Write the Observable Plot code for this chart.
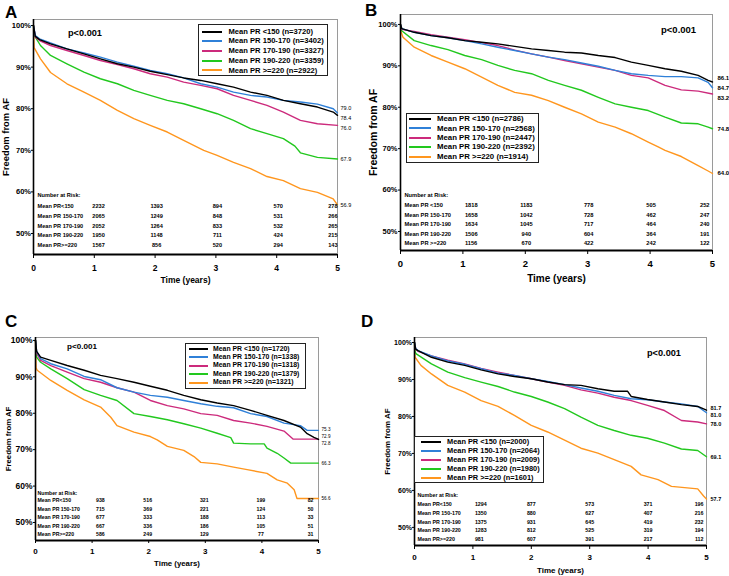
<!DOCTYPE html>
<html><head><meta charset="utf-8">
<script src="https://cdn.jsdelivr.net/npm/d3@7"></script>
<script src="https://cdn.jsdelivr.net/npm/@observablehq/plot@0.6"></script>
<style>
body{margin:0;background:#fff;}
#root{position:relative;width:729px;height:576px;overflow:hidden;font-family:"Liberation Sans",Arial,sans-serif;color:#000;}
.abs{position:absolute;white-space:nowrap;line-height:1;}
.lgbox{position:absolute;border:1.5px solid #222;background:#fff;box-sizing:border-box;}
.lgline{position:absolute;height:2px;}
</style></head><body><div id="root"></div>
<script>
// ---------- shared categories / ticks ----------
const groups = ["<150", "150-170", "170-190", "190-220", ">=220"];
const colors = ["#000000", "#2f80d8", "#cc2a7c", "#22c81e", "#ff961e"];
const timeTicks = [0, 1, 2, 3, 4, 5];
const pctTicks = [50, 60, 70, 80, 90, 100];
const riskTimes = [1, 2, 3, 4, 5];

// ---------- Panel A ----------
const nA = [3720, 3402, 3327, 3359, 2922];
const survA_lt150 = [[0,100],[0.03,97.4],[0.1,96.6],[0.28,95.6],[0.55,94.4],[0.83,93.2],[1.1,92],[1.38,90.8],[1.65,90],[1.92,89],[2.2,88.2],[2.47,87.4],[2.75,86.8],[3.02,86],[3.29,85.2],[3.57,84],[3.84,83.2],[4.11,82],[4.39,81.2],[4.67,80.4],[4.93,79.2],[5,78.4]];
const survA_150_170 = [[0,100],[0.03,97.6],[0.1,96.8],[0.28,95.8],[0.55,94.4],[0.83,93.4],[1.1,92.4],[1.38,91.2],[1.65,90.2],[1.92,89.2],[2.2,88.4],[2.47,87.4],[2.75,86],[3.02,85.2],[3.29,84],[3.57,83.2],[3.84,82.8],[4.11,82],[4.39,81.6],[4.67,81.1],[4.93,80],[5,79.0]];
const survA_170_190 = [[0,100],[0.03,97.2],[0.1,96.4],[0.28,95.2],[0.55,94],[0.83,92.8],[1.1,91.6],[1.38,90.6],[1.65,89.6],[1.92,88.4],[2.2,87.6],[2.47,86.4],[2.75,85.6],[3.02,84.8],[3.29,83.2],[3.57,82],[3.84,80.8],[4.11,79.2],[4.39,77.2],[4.67,76.4],[5,76.0]];
const survA_190_220 = [[0,100],[0.01,97.8],[0.03,97.2],[0.115,95.2],[0.28,92.8],[0.55,90.8],[0.83,88.8],[1.1,87.2],[1.38,86],[1.65,84.4],[1.92,83.2],[2.2,82],[2.47,81.2],[2.75,80],[3.02,78.8],[3.29,77.2],[3.57,75.2],[3.84,74],[4.11,72.8],[4.3,71.0],[4.39,69.4],[4.67,68.3],[5,67.9]];
const survA_ge220 = [[0,100],[0.01,94.7],[0.115,92],[0.28,88.7],[0.55,86],[0.83,84],[1.1,82],[1.38,79.6],[1.65,77.6],[1.92,76],[2.2,74.4],[2.47,72.4],[2.8,70],[3.02,68.8],[3.29,67.1],[3.57,65.6],[3.84,63.7],[4.11,62.7],[4.39,60.8],[4.67,59.9],[4.93,58.3],[5,56.9]];
const riskLabelsA = ["Mean PR<150", "Mean PR 150-170", "Mean PR 170-190", "Mean PR 190-220", "Mean PR>=220"];
const riskA_lt150 = [2232, 1393, 894, 570, 278];
const riskA_150_170 = [2065, 1249, 848, 531, 266];
const riskA_170_190 = [2052, 1264, 833, 532, 265];
const riskA_190_220 = [1950, 1148, 711, 424, 215];
const riskA_ge220 = [1567, 856, 520, 294, 143];

// ---------- Panel B ----------
const nB = [2786, 2568, 2447, 2392, 1914];
const survB_lt150 = [[0,100],[0.02,99],[0.22,98.1],[0.49,97.3],[0.76,96.8],[1.03,96.1],[1.3,95.7],[1.56,95.3],[1.83,94.7],[2.1,94.1],[2.37,93.7],[2.63,93.3],[2.9,93.1],[3.17,92.5],[3.44,92],[3.7,90.9],[3.97,90.1],[4.24,89.3],[4.5,88.7],[4.77,87.7],[4.93,86.5],[5,86.1]];
const survB_150_170 = [[0,100],[0.02,99],[0.22,98.1],[0.49,97.3],[0.76,96.8],[1.03,96.1],[1.3,95.3],[1.56,94.5],[1.83,93.7],[2.1,92.9],[2.37,92.1],[2.63,91.5],[2.9,90.7],[3.17,89.9],[3.44,88.9],[3.7,88.1],[3.97,87.7],[4.24,87.4],[4.5,87.4],[4.77,87.1],[4.93,86],[5,84.7]];
const survB_170_190 = [[0,100],[0.02,98.8],[0.22,98.3],[0.49,97.5],[0.76,96.9],[1.03,96.3],[1.3,95.6],[1.56,94.9],[1.83,93.8],[2.1,92.9],[2.37,92.1],[2.63,91.3],[2.9,90.5],[3.17,89.7],[3.44,88.9],[3.7,87.7],[3.97,87.1],[4.24,85.3],[4.5,84.2],[4.77,83.9],[5,83.2]];
const survB_190_220 = [[0,100],[0.01,98.6],[0.22,96.1],[0.49,94.9],[0.76,93.9],[1.03,92.5],[1.3,91.5],[1.56,90.1],[1.83,88.9],[2.1,88.1],[2.37,86.5],[2.63,85.3],[2.9,84.1],[3.17,82.4],[3.44,80.8],[3.7,80],[3.97,79.2],[4.24,77.6],[4.5,76.2],[4.77,76],[4.93,75.2],[5,74.8]];
const survB_ge220 = [[0,100],[0.01,98.2],[0.04,96.9],[0.22,94.5],[0.49,92.5],[0.76,90.9],[1.03,89.3],[1.3,87.3],[1.56,85.3],[1.83,83.6],[2.1,82.9],[2.37,81.6],[2.63,80],[2.9,78.4],[3.17,76.4],[3.44,75.2],[3.7,73.6],[3.97,71.6],[4.13,70.4],[4.24,69.6],[4.5,68.1],[4.77,65.9],[4.93,64.6],[5,64.0]];
const riskLabelsB = ["Mean PR <150", "Mean PR 150-170", "Mean PR 170-190", "Mean PR 190-220", "Mean PR >=220"];
const riskB_lt150 = [1818, 1183, 778, 505, 252];
const riskB_150_170 = [1658, 1042, 728, 462, 247];
const riskB_170_190 = [1634, 1045, 717, 464, 240];
const riskB_190_220 = [1506, 940, 604, 364, 191];
const riskB_ge220 = [1156, 670, 422, 242, 122];

// ---------- Panel C ----------
const nC = [1720, 1338, 1318, 1379, 1321];
const survC_lt150 = [[0,100],[0.02,97],[0.09,95.4],[0.27,94.5],[0.56,93.1],[0.86,91.8],[1.15,90.4],[1.44,89.5],[1.74,88.5],[2.03,87.4],[2.33,86.3],[2.62,84.9],[2.92,83.7],[3.21,82.8],[3.5,82.1],[3.8,80.8],[4.09,79.4],[4.39,78],[4.68,76.2],[4.8,74.4],[4.92,73.4],[5,72.8]];
const survC_150_170 = [[0,100],[0.02,97],[0.09,95],[0.27,93.6],[0.56,92.2],[0.86,90.1],[1.15,89.2],[1.44,87],[1.74,85.8],[2.03,84.9],[2.33,84.4],[2.62,83.5],[2.92,82.6],[3.21,81.9],[3.5,81.5],[3.8,79.9],[4.09,79.1],[4.39,77.3],[4.68,76.6],[4.8,75.3],[5,75.3]];
const survC_170_190 = [[0,100],[0.02,96.5],[0.09,94.5],[0.27,93.1],[0.56,91.3],[0.86,89.5],[1.15,88.5],[1.44,87],[1.74,85.8],[2.03,83.5],[2.33,82.1],[2.62,81.2],[2.92,79.9],[3.21,79.4],[3.5,78],[3.8,77.3],[4.09,76.4],[4.39,75.1],[4.55,72.9],[5,72.9]];
const survC_190_220 = [[0,100],[0.02,95.4],[0.09,94],[0.27,92.2],[0.56,89.5],[0.86,86.5],[1.15,84.9],[1.44,83.5],[1.74,79.9],[2.03,79.1],[2.33,78.2],[2.62,77.1],[2.92,75.9],[3.21,74.5],[3.45,73.3],[3.5,71.8],[3.8,71.6],[4.04,71.6],[4.09,70.4],[4.27,69],[4.39,67.7],[4.51,66.3],[5,66.3]];
const survC_ge220 = [[0,100],[0.01,92.5],[0.03,91.8],[0.27,89],[0.56,86.3],[0.86,83.7],[1.15,81.7],[1.33,78.9],[1.44,76.6],[1.74,74.8],[2.03,73.6],[2.15,72.7],[2.33,70.9],[2.62,69.8],[2.8,68.1],[2.92,66.5],[3.21,66.1],[3.5,65.2],[3.74,64.5],[4.09,63.5],[4.27,61.7],[4.45,60.8],[4.57,59],[4.62,56.6],[5,56.6]];
const riskLabelsC = ["Mean PR<150", "Mean PR 150-170", "Mean PR 170-190", "Mean PR 190-220", "Mean PR>=220"];
const riskC_lt150 = [938, 516, 321, 199, 82];
const riskC_150_170 = [715, 369, 221, 124, 50];
const riskC_170_190 = [677, 333, 188, 113, 33];
const riskC_190_220 = [667, 336, 186, 105, 51];
const riskC_ge220 = [586, 249, 129, 77, 31];

// ---------- Panel D ----------
const nD = [2000, 2064, 2009, 1980, 1601];
const survD_lt150 = [[0,100],[0.02,98.2],[0.06,97.8],[0.29,96],[0.57,94.7],[0.86,93.8],[1.14,92.6],[1.43,91.5],[1.71,90.8],[2,90.2],[2.28,89.3],[2.57,88.6],[2.85,88.4],[3.14,87.5],[3.42,86.8],[3.65,86.8],[3.71,85.4],[3.99,84.6],[4.28,83.9],[4.57,83.2],[4.85,82.7],[5,81.7]];
const survD_150_170 = [[0,100],[0.02,98.4],[0.06,97.8],[0.29,96.4],[0.57,95],[0.86,94.1],[1.14,92.9],[1.43,91.7],[1.71,91.1],[2,90.2],[2.28,89.5],[2.57,88.6],[2.85,87.7],[3.14,86.8],[3.42,85.7],[3.71,84.8],[3.99,84.5],[4.28,83.9],[4.57,83.4],[4.85,82.7],[5,81.0]];
const survD_170_190 = [[0,100],[0.02,98.2],[0.06,97.6],[0.29,96.4],[0.57,95.2],[0.86,94.2],[1.14,93],[1.43,92],[1.71,91.1],[2,90.2],[2.28,89.3],[2.57,88.4],[2.85,87.2],[3.14,86.3],[3.42,85.2],[3.71,84.3],[3.99,83],[4.28,81.6],[4.57,78.9],[4.85,78.5],[5,78.0]];
const survD_190_220 = [[0,100],[0.01,97.5],[0.03,96.9],[0.29,94.2],[0.57,92],[0.86,90.5],[1.14,89.3],[1.43,88.1],[1.71,86.6],[2,85.4],[2.28,83.9],[2.57,82.1],[2.85,79.8],[3.14,77.6],[3.42,76.2],[3.71,74.9],[3.99,74.1],[4.28,72.8],[4.57,71.2],[4.85,70.8],[5,69.1]];
const survD_ge220 = [[0,100],[0.01,96],[0.11,93.8],[0.29,91.5],[0.57,88.4],[0.86,86.6],[1.14,84.3],[1.43,82.7],[1.71,80.3],[2,77.6],[2.28,75.8],[2.57,73.6],[2.85,71.4],[3.14,70.1],[3.42,68.3],[3.71,66.5],[3.88,64.2],[4.17,62.9],[4.4,61.1],[4.85,60.4],[4.95,58.5],[5,57.7]];
const riskLabelsD = ["Mean PR<150", "Mean PR 150-170", "Mean PR 170-190", "Mean PR 190-220", "Mean PR>=220"];
const riskD_lt150 = [1294, 877, 573, 371, 196];
const riskD_150_170 = [1350, 880, 627, 407, 216];
const riskD_170_190 = [1375, 931, 645, 419, 232];
const riskD_190_220 = [1283, 812, 525, 319, 194];
const riskD_ge220 = [981, 607, 391, 217, 112];

// ---------- layout (styling only) ----------
const FONT = '"Liberation Sans", Arial, sans-serif';
const root = document.getElementById("root");

const layoutA = {left:0, top:0, width:364, height:290, ml:33, mr:27, mt:19, mb:36, yMin:44.95, yMax:101.45,
  yTickFont:7.5, yTickSize:2, yTickPad:0.5, xTickFont:8.5, xTickSize:4, xTickPad:6, xTitleFont:8.5, xTitleDy:26,
  yTitleFont:9.4, yTitleDx:-28, endFont:5.5, endBold:false, endDx:3, labelGap:10,
  riskFont:5.6, riskLabelDx:4, riskLast:9.3, riskStep:9.7, riskHeadGap:11, firstDx:-2, midDx:1.5, lastDx:0,
  letter:"A", letterX:5, letterBase:18.5, pText:"p<0.001", pX:68, pY:33, pFont:9.2,
  legend:{left:198, top:24, w:130, h:52, row0:7.5, step:9.7, lineX:4, lineW:20, textX:30.5, font:7.6}};
const layoutB = {left:364, top:0, width:365, height:290, ml:36, mr:17, mt:14, mb:40, yMin:45.4, yMax:102.4,
  yTickFont:7.5, yTickSize:2, yTickPad:1, xTickFont:9.5, xTickSize:4, xTickPad:6, xTitleFont:10, xTitleDy:28,
  yTitleFont:10.5, yTitleDx:-27, endFont:6, endBold:true, endDx:5, labelGap:10,
  riskFont:5.7, riskLabelDx:4, riskLast:7, riskStep:9.5, riskHeadGap:10, firstDx:2, midDx:1, lastDx:-3,
  letter:"B", letterX:365, letterBase:16.5, pText:"p<0.001", pX:661, pY:30, pFont:9.5,
  legend:{left:406, top:113, w:133, h:50, row0:6, step:9.4, lineX:3, lineW:22, textX:31, font:7.8}};
const layoutC = {left:0, top:290, width:364, height:286, ml:35, mr:46, mt:47, mb:36, yMin:45.05, yMax:100.8,
  yTickFont:8.5, yTickSize:2, yTickPad:1, xTickFont:8, xTickSize:3, xTickPad:5, xTitleFont:7.8, xTitleDy:23,
  yTitleFont:7.8, yTitleDx:-27, endFont:4.6, endBold:false, endDx:3, labelGap:7,
  riskFont:5.2, riskLabelDx:2, riskLast:6, riskStep:8.5, riskHeadGap:7, firstDx:4, midDx:-1, lastDx:-5,
  letter:"C", letterX:5, letterBase:327, pText:"p<0.001", pX:67, pY:347, pFont:8.1,
  legend:{left:185, top:343, w:121, h:46, row0:6, step:8.4, lineX:4, lineW:19, textX:28, font:6.9}};
const layoutD = {left:364, top:290, width:365, height:286, ml:50, mr:23, mt:47, mb:31, yMin:45.1, yMax:101.35,
  yTickFont:7, yTickSize:2, yTickPad:0.5, xTickFont:8, xTickSize:4, xTickPad:5, xTitleFont:8, xTitleDy:25,
  yTitleFont:8, yTitleDx:-27, endFont:5.5, endBold:true, endDx:4, labelGap:7,
  riskFont:5.3, riskLabelDx:3, riskLast:6, riskStep:8.8, riskHeadGap:9, firstDx:2, midDx:0, lastDx:-3,
  letter:"D", letterX:361, letterBase:327, pText:"p<0.001", pX:647, pY:353, pFont:9.2,
  legend:{left:414, top:436, w:130, h:47, row0:5.5, step:9, lineX:7, lineW:20, textX:33, font:7.4}};

function htmlText(txt, x, y, size, baseline) {
  const d = document.createElement("div");
  d.className = "abs";
  d.textContent = txt;
  d.style.fontSize = size + "px";
  d.style.fontWeight = "bold";
  d.style.left = x + "px";
  d.style.top = (y - (baseline ? 0.8465 : 0.488) * size) + "px";
  root.append(d);
}

function buildPanel(cfg, series, risk, riskLabels, ns) {
  const plotH = cfg.height - cfg.mt - cfg.mb;
  const pxPerPct = plotH / (cfg.yMax - cfg.yMin);
  // end-of-curve labels, nudged apart so they do not overlap
  const ends = series.map((s, i) => ({t: s[s.length - 1][0], v: s[s.length - 1][1], i}));
  const order = ends.map((_, i) => i).sort((a, b) => ends[b].v - ends[a].v);
  const pos = order.map(i => -ends[i].v * pxPerPct);
  for (let k = 0; k < 400; k++) for (let j = 0; j < pos.length - 1; j++) {
    const d = pos[j + 1] - pos[j];
    if (d < cfg.labelGap) { const s = (cfg.labelGap - d) / 2; pos[j] -= s; pos[j + 1] += s; }
  }
  order.forEach((i, j) => { ends[i].ly = -pos[j] / pxPerPct; });

  const marks = [Plot.frame({stroke: "#9a9a9a", strokeWidth: 1})];
  [4, 3, 2, 1, 0].forEach(i => marks.push(
    Plot.line(series[i], {x: d => d[0], y: d => d[1], stroke: colors[i], strokeWidth: 1.4})
  ));
  marks.push(Plot.ruleX([0], {stroke: "#000", strokeWidth: 1.6}));
  marks.push(Plot.ruleY([cfg.yMin], {stroke: "#000", strokeWidth: 2}));
  marks.push(Plot.axisY({ticks: pctTicks, tickFormat: d => d + "%", tickSize: cfg.yTickSize, tickPadding: cfg.yTickPad,
    fontSize: cfg.yTickFont, fontWeight: "bold", label: null}));
  marks.push(Plot.axisX({ticks: timeTicks, tickFormat: d => String(d), tickSize: cfg.xTickSize, tickPadding: cfg.xTickPad,
    fontSize: cfg.xTickFont, fontWeight: "bold", label: null}));
  marks.push(Plot.text(ends, {x: "t", y: "ly", text: d => d.v.toFixed(1), textAnchor: "start", dx: cfg.endDx,
    fontSize: cfg.endFont, fontWeight: cfg.endBold ? "bold" : "normal"}));
  marks.push(Plot.text(["Time (years)"], {text: d => d, frameAnchor: "bottom", dy: cfg.xTitleDy, lineAnchor: "middle",
    fontSize: cfg.xTitleFont, fontWeight: "bold"}));
  marks.push(Plot.text(["Freedom from AF"], {text: d => d, frameAnchor: "left", dx: cfg.yTitleDx, rotate: -90,
    textAnchor: "middle", lineAnchor: "middle", fontSize: cfg.yTitleFont, fontWeight: "bold"}));
  const rowDy = r => -(cfg.riskLast + (4 - r) * cfg.riskStep);
  marks.push(Plot.text(["Number at Risk:"], {text: d => d, frameAnchor: "bottom-left", dx: cfg.riskLabelDx,
    dy: rowDy(0) - cfg.riskHeadGap, textAnchor: "start", lineAnchor: "middle", fontSize: cfg.riskFont, fontWeight: "bold"}));
  risk.forEach((vals, r) => {
    const cells = riskTimes.map((t, j) => ({t, n: vals[j]}));
    const common = {x: "t", text: d => String(d.n), frameAnchor: "bottom", dy: rowDy(r), lineAnchor: "middle",
      fontSize: cfg.riskFont, fontWeight: "bold"};
    marks.push(Plot.text([riskLabels[r]], {text: d => d, frameAnchor: "bottom-left", dx: cfg.riskLabelDx, dy: rowDy(r),
      textAnchor: "start", lineAnchor: "middle", fontSize: cfg.riskFont, fontWeight: "bold"}));
    marks.push(Plot.text(cells.slice(0, 1), {...common, textAnchor: "start", dx: cfg.firstDx}));
    marks.push(Plot.text(cells.slice(1, 4), {...common, textAnchor: "middle", dx: cfg.midDx}));
    marks.push(Plot.text(cells.slice(4), {...common, textAnchor: "end", dx: cfg.lastDx}));
  });

  const svg = Plot.plot({
    width: cfg.width, height: cfg.height,
    marginLeft: cfg.ml, marginRight: cfg.mr, marginTop: cfg.mt, marginBottom: cfg.mb,
    x: {domain: [0, 5]}, y: {domain: [cfg.yMin, cfg.yMax]},
    style: {fontFamily: FONT, color: "#000", background: "transparent", overflow: "visible"},
    marks
  });
  svg.style.position = "absolute";
  svg.style.left = cfg.left + "px";
  svg.style.top = cfg.top + "px";
  root.append(svg);

  // panel letter and p-value
  htmlText(cfg.letter, cfg.letterX, cfg.letterBase, 17, true);
  htmlText(cfg.pText, cfg.pX, cfg.pY, cfg.pFont, false);

  // legend box
  const L = cfg.legend;
  const box = document.createElement("div");
  box.className = "lgbox";
  Object.assign(box.style, {left: L.left + "px", top: L.top + "px", width: L.w + "px", height: L.h + "px"});
  root.append(box);
  groups.forEach((g, i) => {
    const y = L.top + L.row0 + i * L.step;
    const ln = document.createElement("div");
    ln.className = "lgline";
    Object.assign(ln.style, {left: (L.left + L.lineX) + "px", top: (y - 1) + "px", width: L.lineW + "px", background: colors[i]});
    root.append(ln);
    htmlText(`Mean PR ${g} (n=${ns[i]})`, L.left + L.textX, y, L.font, false);
  });
}

buildPanel(layoutA, [survA_lt150, survA_150_170, survA_170_190, survA_190_220, survA_ge220],
  [riskA_lt150, riskA_150_170, riskA_170_190, riskA_190_220, riskA_ge220], riskLabelsA, nA);
buildPanel(layoutB, [survB_lt150, survB_150_170, survB_170_190, survB_190_220, survB_ge220],
  [riskB_lt150, riskB_150_170, riskB_170_190, riskB_190_220, riskB_ge220], riskLabelsB, nB);
buildPanel(layoutC, [survC_lt150, survC_150_170, survC_170_190, survC_190_220, survC_ge220],
  [riskC_lt150, riskC_150_170, riskC_170_190, riskC_190_220, riskC_ge220], riskLabelsC, nC);
buildPanel(layoutD, [survD_lt150, survD_150_170, survD_170_190, survD_190_220, survD_ge220],
  [riskD_lt150, riskD_150_170, riskD_170_190, riskD_190_220, riskD_ge220], riskLabelsD, nD);
</script></body></html>
